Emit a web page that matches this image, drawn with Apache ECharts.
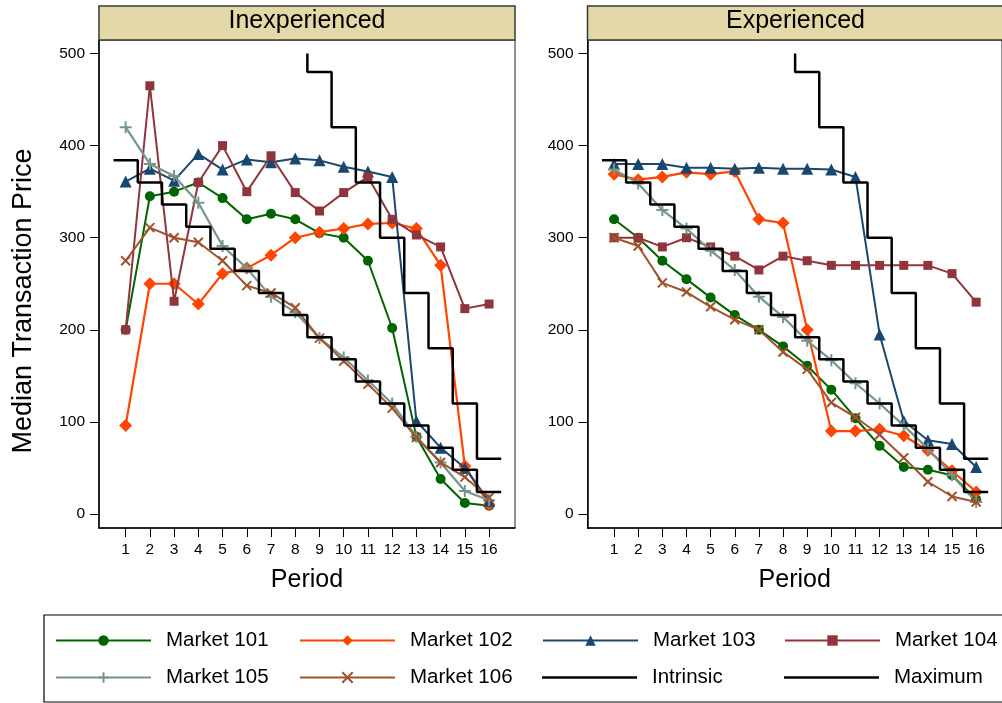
<!DOCTYPE html>
<html><head><meta charset="utf-8">
<script src="https://cdn.jsdelivr.net/npm/echarts@6/dist/echarts.min.js"></script>
<style>html,body{margin:0;padding:0;background:#fff}#c{width:1002px;height:703px}</style>
</head><body><div id="c"></div>
<script>
// ---------------- data ----------------
const periods = [1,2,3,4,5,6,7,8,9,10,11,12,13,14,15,16];
const panelTitles = ['Inexperienced', 'Experienced'];
const yTitle = 'Median Transaction Price';
const marketNames = ['Market 101','Market 102','Market 103','Market 104','Market 105','Market 106'];
const yTickValues = [0,100,200,300,400,500];

// Inexperienced
const inexp101 = [200,345,350,360,343,320,326,320,305,300,275,202,84,38,12,9];
const inexp102 = [96,250,250,228,261,267,281,300,306,310,315,316,310,270,52,10];
const inexp103 = [361,375,362,391,374,385,382,386,384,377,372,366,101,72,50,14];
const inexp104 = [200,465,231,360,400,350,389,349,329,349,366,320,303,290,223,228];
const inexp105 = [420,380,367,338,291,267,236,219,191,170,145,120,84,56,25,15];
const inexp106 = [275,311,300,295,275,248,240,224,191,166,141,115,83,56,40,18];
// Experienced
const exp101 = [320,300,275,255,235,216,200,182,161,135,104,74,51,48,42,16];
const exp102 = [369,363,366,371,369,372,320,316,200,90,90,92,85,69,47,24];
const exp103 = [380,380,380,376,376,375,376,375,375,374,366,195,101,80,76,51];
const exp104 = [300,300,290,300,290,280,265,280,275,270,270,270,270,270,261,230];
const exp105 = [374,359,330,310,286,265,236,214,188,167,142,120,96,71,42,13];
const exp106 = [300,291,251,241,225,211,200,176,157,121,105,86,61,35,19,13];

const intrinsic = [384,360,336,312,288,264,240,216,192,168,144,120,96,72,48,24];
const maximumPeriods = [9,10,11,12,13,14,15,16];
const maximum = [480,420,360,300,240,180,120,60];
const maximumCapPeriod = 8.5;   // maximum for period 8 runs off the scale: drawn from the 500 cap
const maximumCapValue = 500;

const panelData = [
  [inexp101, inexp102, inexp103, inexp104, inexp105, inexp106],
  [exp101, exp102, exp103, exp104, exp105, exp106]
];

// ---------------- styles ----------------
const FONT = '"Liberation Sans", Arial, Helvetica, sans-serif';
const colors = ['#006400', '#ff4500', '#1a476f', '#90353b', '#76958b', '#a0522d'];
const PLUS = 'path://M0,5L10,5M5,0L5,10';
const CROSS = 'path://M0,0L10,10M10,0L0,10';
const symbols = ['circle', 'diamond', 'triangle', 'rect', PLUS, CROSS];
const symbolSizes = [10, 13, 12, 9, 12, 9];
const lineWidths = [2, 2.2, 2, 2, 2.2, 2];

const gridLefts = [99, 587.5];
const gridTop = 40, gridW = 416, gridH = 488;

// step lines built from the data arrays
const intrinsicSteps = [];
periods.forEach((p, i) => { intrinsicSteps.push([p - 0.5, intrinsic[i]]); intrinsicSteps.push([p + 0.5, intrinsic[i]]); });
const maximumSteps = [[maximumCapPeriod, maximumCapValue]];
maximumPeriods.forEach((p, i) => { maximumSteps.push([p - 0.5, maximum[i]]); maximumSteps.push([p + 0.5, maximum[i]]); });

const grids = [], xAxes = [], yAxes = [], series = [];
[0, 1].forEach(g => {
  grids.push({ left: gridLefts[g], top: gridTop, width: gridW, height: gridH, show: true,
    borderColor: '#222', borderWidth: 1, backgroundColor: '#fff' });
  xAxes.push({
    type: 'value', gridIndex: g, min: -0.1, max: 17.07,
    name: 'Period', nameLocation: 'middle', nameGap: 40,
    nameTextStyle: { fontFamily: FONT, fontSize: 25, color: '#000' },
    axisLine: { show: true, onZero: false, lineStyle: { color: '#000', width: 1.5 } },
    axisTick: { show: true, length: 9, customValues: periods, lineStyle: { color: '#000', width: 1 } },
    axisLabel: { show: true, customValues: periods, margin: 14, fontFamily: FONT, fontSize: 15.5, color: '#000' },
    splitLine: { show: false }
  });
  yAxes.push({
    type: 'value', gridIndex: g, min: -15.2, max: 514.7,
    axisLine: { show: true, onZero: false, lineStyle: { color: '#000', width: 1.5 } },
    axisTick: { show: true, length: 9, customValues: yTickValues, lineStyle: { color: '#000', width: 1 } },
    axisLabel: { show: true, customValues: yTickValues, margin: 14, fontFamily: FONT, fontSize: 15.5, color: '#000' },
    splitLine: { show: false }
  });
  marketNames.forEach((name, m) => {
    const isPath = symbols[m].indexOf('path://') === 0;
    series.push({
      type: 'line', name: name, xAxisIndex: g, yAxisIndex: g,
      data: periods.map((p, i) => [p, panelData[g][m][i]]),
      symbol: symbols[m], symbolSize: symbolSizes[m], showAllSymbol: true,
      lineStyle: { color: colors[m], width: lineWidths[m] },
      itemStyle: isPath ? { color: colors[m], borderColor: colors[m], borderWidth: 2 } : { color: colors[m] },
      emphasis: { disabled: true }, z: 3 + m * 0.01, animation: false
    });
  });
  series.push({ type: 'line', name: 'Intrinsic', xAxisIndex: g, yAxisIndex: g, data: intrinsicSteps,
    symbol: 'none', lineStyle: { color: '#000', width: 2.5 }, itemStyle: { color: '#000' },
    emphasis: { disabled: true }, z: 4, animation: false });
  series.push({ type: 'line', name: 'Maximum', xAxisIndex: g, yAxisIndex: g, data: maximumSteps,
    symbol: 'none', lineStyle: { color: '#000', width: 2.5 }, itemStyle: { color: '#000' },
    emphasis: { disabled: true }, z: 4, animation: false });
});

// legend: one component per slot so columns align like the original
const legendNames = ['Market 101','Market 102','Market 103','Market 104','Market 105','Market 106','Intrinsic','Maximum'];
const legendCols = [55, 299, 542, 784];
const legendRows = [630, 667];
const legends = legendNames.map((name, k) => {
  const isLine = name === 'Intrinsic' || name === 'Maximum';
  return {
    show: true, selectedMode: false, orient: 'horizontal', padding: 0,
    left: legendCols[k % 4], top: legendRows[Math.floor(k / 4)],
    itemWidth: 95, itemHeight: isLine ? 2.5 : 13, itemGap: 0,
    data: isLine ? [{ name: name, icon: 'rect' }] : [name],
    textStyle: { fontFamily: FONT, fontSize: 20.5, color: '#000', padding: [0, 0, 0, 10] }
  };
});

const graphics = [];
[0, 1].forEach(g => {
  graphics.push({ type: 'rect', z: 10, shape: { x: gridLefts[g], y: 6, width: gridW, height: 34 },
    style: { fill: '#e3d8a7', stroke: '#3a3a3a', lineWidth: 1.5 } });
  graphics.push({ type: 'text', z: 11, x: gridLefts[g] + gridW / 2, y: 21,
    style: { text: panelTitles[g], fontFamily: FONT, fontSize: 25, fill: '#000', textAlign: 'center', textVerticalAlign: 'middle' } });
});
graphics.push({ type: 'text', z: 11, x: 24, y: 301, rotation: Math.PI / 2,
  style: { text: yTitle, fontFamily: FONT, fontSize: 27, fill: '#000', textAlign: 'center', textVerticalAlign: 'middle' } });
graphics.push({ type: 'rect', z: 10, shape: { x: 44, y: 615, width: 1000, height: 87 },
  style: { fill: 'none', stroke: '#000', lineWidth: 1.2 } });

const chart = echarts.init(document.getElementById('c'), null, { renderer: 'canvas' });
chart.setOption({
  backgroundColor: '#fff', animation: false,
  grid: grids, xAxis: xAxes, yAxis: yAxes, series: series, legend: legends, graphic: graphics
});
</script></body></html>
